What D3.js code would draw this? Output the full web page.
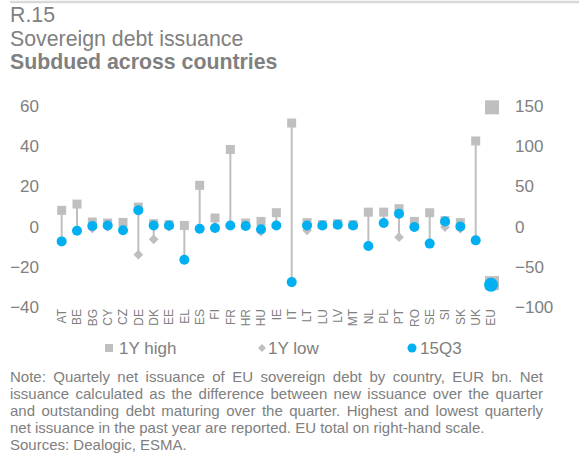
<!DOCTYPE html>
<html>
<head>
<meta charset="utf-8">
<script src="https://cdn.jsdelivr.net/npm/d3@7"></script>
<style>
  html, body { margin: 0; padding: 0; background: #fff; }
  svg { display: block; font-family: "Liberation Sans", Arial, sans-serif; }
</style>
</head>
<body>
<svg id="chart" width="579" height="457"></svg>
<script>
// ---- Data (EUR bn) ----
const countries = ["AT","BE","BG","CY","CZ","DE","DK","EE","EL","ES","FI","FR","HR","HU","IE","IT","LT","LU","LV","MT","NL","PL","PT","RO","SE","SI","SK","UK"];
const high1Y = [8.1, 11.2, 2.3, 1.8, 2.1, 9.7, 1.5, 1.0, 0.6, 20.5, 4.3, 38.3, 1.8, 2.6, 6.9, 51.4, 2.0, 1.0, 1.5, 1.0, 7.2, 7.2, 8.9, 2.6, 6.9, 3.0, 2.0, 42.5];
const low1Y  = [-7.3, -2.0, -0.9, 0.0, -1.8, -13.9, -6.3, 0.0, -16.4, -1.0, -0.7, 0.6, 0.3, -2.5, 0.6, -27.5, -1.8, 0.6, 1.0, 0.6, -9.6, 1.8, -5.2, -0.2, -8.4, -0.2, -1.0, -6.8];
const q3_15  = [-7.3, -2.0, 0.3, 0.6, -1.8, 8.1, 0.6, 0.6, -16.4, -1.0, -0.7, 0.6, 0.3, -1.3, 0.6, -27.5, 0.6, 0.6, 1.0, 0.6, -9.6, 1.8, 6.4, -0.2, -8.4, 2.6, 0.1, -6.8];
// EU total, right-hand scale
const euCategory = "EU";
const euHigh = 148;
const euLow = -70;
const euQ3 = -72;

const leftTicks = [60, 40, 20, 0, -20, -40];
const rightTicks = [150, 100, 50, 0, -50, -100];

const titleLines = ["R.15", "Sovereign debt issuance", "Subdued across countries"];
const legendLabels = ["1Y high", "1Y low", "15Q3"];
const noteLines = [
  "Note: Quartely net issuance of EU sovereign debt by country, EUR bn. Net",
  "issuance calculated as the difference between new issuance over the quarter",
  "and outstanding debt maturing over the quarter. Highest and lowest quarterly",
  "net issuance in the past year are reported. EU total on right-hand scale.",
  "Sources: Dealogic, ESMA."
];

// ---- Layout ----
const svg = d3.select("#chart");
const textColor = "#808080";
const grey = "#bfbfbf";
const blue = "#00b0f0";

const allCats = countries.concat([euCategory]);
const x = d3.scaleBand().domain(allCats).range([54, 498.7]).padding(0);
const yL = d3.scaleLinear().domain([-40, 60]).range([307.3, 105.7]);
const yR = d3.scaleLinear().domain([-100, 150]).range([307.3, 105.7]);
const cx = c => x(c) + x.bandwidth() / 2;

// top rule
svg.append("line").attr("x1", 10).attr("x2", 579).attr("y1", 2).attr("y2", 2)
  .attr("stroke", "#d9d9d9").attr("stroke-width", 2.5);

// titles
svg.append("text").attr("x", 10).attr("y", 22).attr("font-size", 21.3).attr("fill", textColor).text(titleLines[0]);
svg.append("text").attr("x", 10).attr("y", 45.5).attr("font-size", 21.3).attr("fill", textColor).text(titleLines[1]);
svg.append("text").attr("x", 10).attr("y", 69).attr("font-size", 21.3).attr("font-weight", "bold").attr("fill", textColor).text(titleLines[2]);

// axes (labels only, no lines)
const axL = svg.append("g").attr("transform", "translate(39,0)")
  .call(d3.axisLeft(yL).tickValues(leftTicks).tickSize(0).tickPadding(0));
const axR = svg.append("g").attr("transform", "translate(515,0)")
  .call(d3.axisRight(yR).tickValues(rightTicks).tickSize(0).tickPadding(0));
const axX = svg.append("g").attr("transform", "translate(0,309)")
  .call(d3.axisBottom(x).tickSize(0).tickPadding(0));
[axL, axR, axX].forEach(g => {
  g.select(".domain").remove();
  g.selectAll("text").attr("fill", textColor).attr("font-family", "Liberation Sans, Arial, sans-serif");
});
axL.selectAll("text").attr("font-size", 17);
axR.selectAll("text").attr("font-size", 17);
axX.selectAll("text").attr("font-size", 12)
  .attr("transform", "rotate(-90)")
  .attr("text-anchor", "end")
  .attr("x", 0).attr("y", 0).attr("dx", 0).attr("dy", "0.36em");

// data rows
const rows = countries.map((c, i) => ({c, h: high1Y[i], l: low1Y[i], q: q3_15[i]}));

const plot = svg.append("g");
// high-low lines
plot.selectAll("line.hl").data(rows).join("line").attr("class", "hl")
  .attr("x1", d => cx(d.c)).attr("x2", d => cx(d.c))
  .attr("y1", d => yL(Math.max(d.h, d.l, d.q)))
  .attr("y2", d => yL(Math.min(d.h, d.l, d.q)))
  .attr("stroke", grey).attr("stroke-width", 2);

const sq = 9;
plot.selectAll("rect.hi").data(rows).join("rect").attr("class", "hi")
  .attr("x", d => cx(d.c) - sq / 2).attr("y", d => yL(d.h) - sq / 2)
  .attr("width", sq).attr("height", sq).attr("fill", grey);

const diamond = d3.symbol().type(d3.symbolDiamond2).size(60);
plot.selectAll("path.lo").data(rows).join("path").attr("class", "lo")
  .attr("transform", d => `translate(${cx(d.c)},${yL(d.l)})`)
  .attr("d", diamond).attr("fill", grey);

plot.selectAll("circle.q").data(rows).join("circle").attr("class", "q")
  .attr("cx", d => cx(d.c)).attr("cy", d => yL(d.q)).attr("r", 5).attr("fill", blue);

// EU on right-hand scale
const euSq = 14;
plot.append("rect").attr("x", cx(euCategory) - euSq / 2 + 1).attr("y", yR(euHigh) - euSq / 2)
  .attr("width", euSq).attr("height", euSq).attr("fill", grey);
plot.append("rect").attr("x", cx(euCategory) - euSq / 2 + 1).attr("y", yR(euLow) - euSq / 2)
  .attr("width", euSq).attr("height", euSq).attr("fill", grey);
plot.append("circle").attr("cx", cx(euCategory)).attr("cy", yR(euQ3)).attr("r", 7).attr("fill", blue);

// legend
const lg = svg.append("g").attr("font-size", 17).attr("fill", textColor);
lg.append("rect").attr("x", 105).attr("y", 344).attr("width", 8).attr("height", 8).attr("fill", grey);
lg.append("text").attr("x", 119).attr("y", 354).text(legendLabels[0]);
lg.append("path").attr("transform", "translate(262,348)").attr("d", d3.symbol().type(d3.symbolDiamond2).size(40)).attr("fill", grey);
lg.append("text").attr("x", 268).attr("y", 354).text(legendLabels[1]);
lg.append("circle").attr("cx", 412).attr("cy", 348).attr("r", 4.5).attr("fill", blue);
lg.append("text").attr("x", 420).attr("y", 354).text(legendLabels[2]);

// note (justified lines 0-2)
const noteG = svg.append("g").attr("font-size", 15).attr("fill", textColor);
const left = 10, right = 543;
const baselines = [382, 399, 416, 433, 450];
noteLines.forEach((line, i) => {
  const t = noteG.append("text").attr("y", baselines[i]);
  if (i < 3) {
    const words = line.split(" ");
    const tmp = noteG.append("text").attr("y", -100);
    const widths = words.map(w => { tmp.text(w); return tmp.node().getComputedTextLength(); });
    tmp.remove();
    const total = d3.sum(widths);
    const gap = (right - left - total) / (words.length - 1);
    let xp = left;
    words.forEach((w, k) => {
      t.append("tspan").attr("x", xp).text(w);
      xp += widths[k] + gap;
    });
  } else {
    t.attr("x", left).text(line);
  }
});
</script>
</body>
</html>
